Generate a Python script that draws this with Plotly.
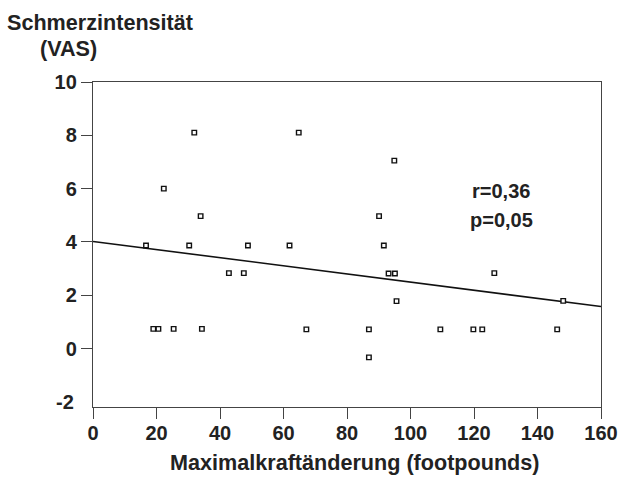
import plotly.graph_objects as go

# Data
x_vals = [16.7, 19.0, 20.6, 22.3, 25.4, 30.3, 31.9, 33.9, 34.3, 42.8,
          47.5, 48.8, 61.9, 64.8, 67.2, 86.9, 86.9, 90.1, 91.6, 93.1,
          94.9, 95.1, 95.6, 109.4, 119.8, 122.6, 126.4, 146.2, 148.1]
y_vals = [3.87, 0.74, 0.74, 6.0, 0.74, 3.87, 8.1, 4.97, 0.74, 2.83,
          2.83, 3.87, 3.87, 8.1, 0.72, 0.72, -0.33, 4.97, 3.87, 2.82,
          7.05, 2.82, 1.78, 0.72, 0.72, 0.72, 2.83, 0.72, 1.79]

fit_intercept = 4.02
fit_slope = -0.01525
x_range = [0, 160]
y_range = [-2.19, 10]

x_ticks = [0, 20, 40, 60, 80, 100, 120, 140, 160]
y_ticks = [0, 2, 4, 6, 8, 10]          # ticks with a tick mark
y_extra_label = -2                      # label drawn without tick mark

stats_lines = ["r=0,36", "p=0,05"]
x_title = "Maximalkraftänderung (footpounds)"
y_title_1 = "Schmerzintensität"
y_title_2 = "(VAS)"

FONT = "Liberation Sans, Arial, Helvetica, sans-serif"
INK = "#222222"
TICK_SIZE = 20
TITLE_SIZE = 21.6

fig = go.Figure()

fit_x = [x_range[0], x_range[1]]
fit_y = [fit_intercept + fit_slope * v for v in fit_x]
fig.add_trace(go.Scatter(x=fit_x, y=fit_y, mode="lines",
                         line=dict(color="#111111", width=1.6),
                         hoverinfo="skip", showlegend=False))

fig.add_trace(go.Scatter(x=x_vals, y=y_vals, mode="markers",
                         marker=dict(symbol="square", size=4.5, color="white",
                                     line=dict(color="#111111", width=1.4)),
                         showlegend=False))

axis_common = dict(showgrid=False, zeroline=False, showline=True,
                   linecolor="#444444", linewidth=1.3, mirror=True,
                   ticks="outside", ticklen=11, tickwidth=1.2,
                   tickcolor="#444444", automargin=False,
                   tickfont=dict(family=FONT, size=TICK_SIZE, color=INK, weight="bold"))

fig.update_xaxes(range=x_range, tickvals=x_ticks,
                 ticktext=[str(v) for v in x_ticks], ticklabelstandoff=-3,
                 **axis_common)
fig.update_yaxes(range=y_range, tickvals=y_ticks,
                 ticktext=[str(v) for v in y_ticks], **axis_common)

bold = lambda s: dict(family=FONT, size=s, color=INK, weight="bold")
annots = [
    dict(text=y_title_1, x=0.013, y=1.1846, xref="paper", yref="paper",
         xanchor="center", yanchor="middle", showarrow=False, font=bold(TITLE_SIZE)),
    dict(text=y_title_2, x=-0.049, y=1.1046, xref="paper", yref="paper",
         xanchor="center", yanchor="middle", showarrow=False, font=bold(TITLE_SIZE)),
    dict(text=x_title, x=0.515, y=-0.172, xref="paper", yref="paper",
         xanchor="center", yanchor="middle", showarrow=False, font=bold(TITLE_SIZE)),
    dict(text=stats_lines[0], x=0.804, y=0.665, xref="paper", yref="paper",
         xanchor="center", yanchor="middle", showarrow=False, font=bold(20)),
    dict(text=stats_lines[1], x=0.804, y=0.576, xref="paper", yref="paper",
         xanchor="center", yanchor="middle", showarrow=False, font=bold(20)),
    dict(text=str(y_extra_label), x=-0.0325, y=y_extra_label, xref="paper", yref="y",
         xanchor="right", yanchor="middle", showarrow=False, font=bold(TICK_SIZE)),
]

fig.update_layout(width=620, height=477,
                  margin=dict(l=93, r=19, t=82, b=70, autoexpand=False),
                  paper_bgcolor="white", plot_bgcolor="white",
                  annotations=annots, showlegend=False)

fig.write_html("out.html")
